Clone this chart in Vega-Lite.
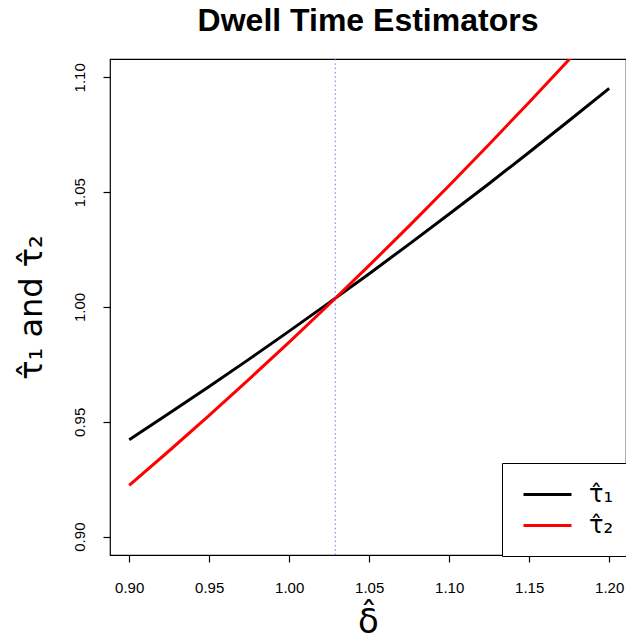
{
  "$schema": "https://vega.github.io/schema/vega-lite/v6.json",
  "width": 516,
  "height": 496,
  "autosize": {"type": "none"},
  "padding": {"left": 110, "top": 59, "right": 0, "bottom": 88},
  "background": "white",
  "config": {
    "font": "Liberation Sans",
    "view": {"stroke": "black", "strokeWidth": 1.2}
  },
  "title": {
    "text": "Dwell Time Estimators",
    "fontSize": 32,
    "fontWeight": "bold",
    "font": "Liberation Sans",
    "color": "black",
    "anchor": "middle",
    "frame": "group",
    "offset": 21
  },
  "layer": [
    {
      "data": {"values": [
        {"delta": 0.900, "tau": 0.9422, "series": "τ̂₁"},
        {"delta": 0.925, "tau": 0.9537, "series": "τ̂₁"},
        {"delta": 0.950, "tau": 0.9654, "series": "τ̂₁"},
        {"delta": 0.975, "tau": 0.9773, "series": "τ̂₁"},
        {"delta": 1.000, "tau": 0.9895, "series": "τ̂₁"},
        {"delta": 1.025, "tau": 1.0019, "series": "τ̂₁"},
        {"delta": 1.050, "tau": 1.0145, "series": "τ̂₁"},
        {"delta": 1.075, "tau": 1.0274, "series": "τ̂₁"},
        {"delta": 1.100, "tau": 1.0405, "series": "τ̂₁"},
        {"delta": 1.125, "tau": 1.0538, "series": "τ̂₁"},
        {"delta": 1.150, "tau": 1.0674, "series": "τ̂₁"},
        {"delta": 1.175, "tau": 1.0812, "series": "τ̂₁"},
        {"delta": 1.200, "tau": 1.0952, "series": "τ̂₁"},
        {"delta": 0.900, "tau": 0.9223, "series": "τ̂₂"},
        {"delta": 0.925, "tau": 0.9374, "series": "τ̂₂"},
        {"delta": 0.950, "tau": 0.9528, "series": "τ̂₂"},
        {"delta": 0.975, "tau": 0.9686, "series": "τ̂₂"},
        {"delta": 1.000, "tau": 0.9847, "series": "τ̂₂"},
        {"delta": 1.025, "tau": 1.0012, "series": "τ̂₂"},
        {"delta": 1.050, "tau": 1.0181, "series": "τ̂₂"},
        {"delta": 1.075, "tau": 1.0353, "series": "τ̂₂"},
        {"delta": 1.100, "tau": 1.0529, "series": "τ̂₂"},
        {"delta": 1.125, "tau": 1.0709, "series": "τ̂₂"},
        {"delta": 1.150, "tau": 1.0892, "series": "τ̂₂"},
        {"delta": 1.175, "tau": 1.1078, "series": "τ̂₂"},
        {"delta": 1.200, "tau": 1.1269, "series": "τ̂₂"}
      ]},
      "mark": {"type": "line", "strokeWidth": 3, "clip": true},
      "encoding": {
        "x": {
          "field": "delta", "type": "quantitative",
          "scale": {"domain": [0.888, 1.2105], "nice": false, "zero": false},
          "axis": {
            "title": "δ̂",
            "titleFont": "DejaVu Sans",
            "titleFontSize": 34,
            "titleFontWeight": "normal",
            "titleColor": "black",
            "titlePadding": 10,
            "values": [0.9, 0.95, 1.0, 1.05, 1.1, 1.15, 1.2],
            "format": ".2f",
            "labelFontSize": 15,
            "labelColor": "black",
            "labelPadding": 18,
            "tickSize": 7,
            "tickColor": "black",
            "tickWidth": 1.2,
            "domain": false,
            "grid": false,
            "labelFlush": false,
            "labelOverlap": false
          }
        },
        "y": {
          "field": "tau", "type": "quantitative",
          "scale": {"domain": [0.892, 1.108], "nice": false, "zero": false},
          "axis": {
            "title": "τ̂₁ and τ̂₂",
            "titleFont": "DejaVu Sans",
            "titleFontSize": 32,
            "titleFontWeight": "normal",
            "titleColor": "black",
            "titlePadding": 24,
            "values": [0.9, 0.95, 1.0, 1.05, 1.1],
            "format": ".2f",
            "labelAngle": 270,
            "labelAlign": "center",
            "labelBaseline": "bottom",
            "labelFontSize": 15,
            "labelColor": "black",
            "labelPadding": 16,
            "tickSize": 7,
            "tickColor": "black",
            "tickWidth": 1.2,
            "domain": false,
            "grid": false,
            "labelFlush": false,
            "labelOverlap": false
          }
        },
        "color": {
          "field": "series", "type": "nominal",
          "scale": {"domain": ["τ̂₁", "τ̂₂"], "range": ["black", "red"]},
          "legend": {
            "title": null,
            "orient": "none",
            "legendX": 392,
            "legendY": 404,
            "fillColor": "white",
            "strokeColor": "black",
            "padding": 18,
            "symbolType": "M-2,0H2",
            "symbolStrokeWidth": 3,
            "symbolSize": 576,
            "symbolOffset": 14,
            "labelFont": "DejaVu Sans",
            "labelFontSize": 24,
            "labelColor": "black",
            "labelOffset": 28,
            "rowPadding": 5
          }
        }
      }
    },
    {
      "data": {"values": [{"delta": 1.0288}]},
      "mark": {"type": "rule", "color": "#7070ff", "strokeWidth": 1, "strokeDash": [1.5, 2.8]},
      "encoding": {
        "x": {"field": "delta", "type": "quantitative"}
      }
    }
  ]
}
